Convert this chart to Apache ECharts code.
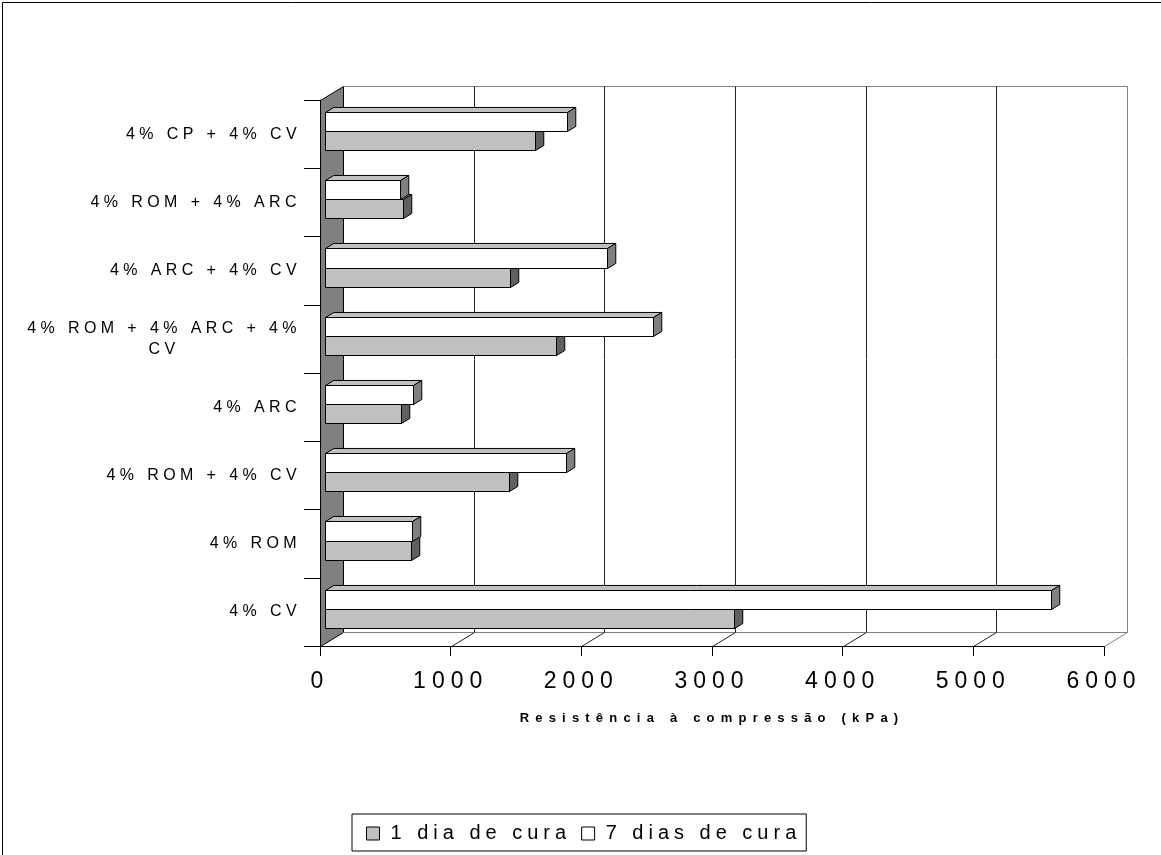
<!DOCTYPE html>
<html>
<head>
<meta charset="utf-8">
<script src="https://cdn.jsdelivr.net/npm/echarts@6/dist/echarts.min.js"></script>
<style>
html,body{margin:0;padding:0;background:#fff;}
#chart{width:1161px;height:855px;}
</style>
</head>
<body>
<div id="chart"></div>
<script>
// ---- data ----
const categories = ['4% CV', '4% ROM', '4% ROM + 4% CV', '4% ARC', '4% ROM + 4% ARC + 4% CV', '4% ARC + 4% CV', '4% ROM + 4% ARC', '4% CP + 4% CV'];
const dia1 = [3130, 660, 1405, 580, 1770, 1415, 595, 1610];
const dia7 = [5555, 665, 1845, 675, 2510, 2155, 570, 1850];
const seriesNames = ['1 dia de cura', '7 dias de cura'];
const xTicks = [0, 1000, 2000, 3000, 4000, 5000, 6000];
const xTickLabels = ['0', '1000', '2000', '3000', '4000', '5000', '6000'];
const axisTitle = 'Resistência à compressão (kPa)';

// ---- wide character spacing of the original text ----
const SPACING = {13: 6.2, 16: 4.4, 20: 5.0, 23: 6};
(function () {
  const P = CanvasRenderingContext2D.prototype;
  if (!('letterSpacing' in P)) return;
  function apply(ctx) {
    const m = /(\d+(?:\.\d+)?)px/.exec(ctx.font);
    const s = m ? (SPACING[Math.round(+m[1])] || 0) : 0;
    ctx.letterSpacing = s + 'px';
  }
  const f = P.fillText, st = P.strokeText, ms = P.measureText;
  P.fillText = function () { apply(this); return f.apply(this, arguments); };
  P.strokeText = function () { apply(this); return st.apply(this, arguments); };
  P.measureText = function () { apply(this); return ms.apply(this, arguments); };
})();

const FONT = '"Liberation Sans", Arial, sans-serif';
const D = [23, -14];          // depth of the 3-D box
const BAR_FRONT = 0.22, BAR_DEPTH = 0.36, BAR_FRAC = 0.28;
const crisp = v => Math.round(v) + 0.5;

function barRenderer(slot, front, top, side) {
  return function (params, api) {
    const v = api.value(0), ci = api.value(1);
    const base = api.coord([0, ci]);
    const end = api.coord([v, ci]);
    const band = api.size([0, 1])[1];
    const h = band * BAR_FRAC;
    const ox = D[0] * BAR_FRONT, oy = D[1] * BAR_FRONT;
    const bx = D[0] * BAR_DEPTH, by = D[1] * BAR_DEPTH;
    const x0 = crisp(base[0] + ox), x1 = crisp(end[0] + ox);
    const y0 = crisp(base[1] + oy + (slot === 0 ? 0 : -h));
    const y1 = crisp(base[1] + oy + (slot === 0 ? h : 0));
    const st = {stroke: '#000', lineWidth: 1};
    return {
      type: 'group',
      children: [
        {type: 'rect', shape: {x: x0, y: y0, width: x1 - x0, height: y1 - y0}, style: Object.assign({fill: front}, st)},
        {type: 'polygon', shape: {points: [[x0, y0], [x1, y0], [x1 + bx, y0 + by], [x0 + bx, y0 + by]]}, style: Object.assign({fill: top}, st)},
        {type: 'polygon', shape: {points: [[x1, y0], [x1 + bx, y0 + by], [x1 + bx, y1 + by], [x1, y1]]}, style: Object.assign({fill: side}, st)}
      ]
    };
  };
}

function wallsRenderer(params, api) {
  const cs = params.coordSys;
  const gx = crisp(cs.x), gy = crisp(cs.y), gw = Math.round(cs.width), gh = Math.round(cs.height);
  const [dx, dy] = D;
  const ch = [];
  ch.push({type: 'polygon', shape: {points: [[gx, gy], [gx + dx, gy + dy], [gx + dx, gy + gh + dy], [gx, gy + gh]]},
           style: {fill: '#808080', stroke: '#000', lineWidth: 1}});
  ch.push({type: 'line', shape: {x1: gx + dx, y1: gy + dy, x2: gx + gw + dx, y2: gy + dy}, style: {stroke: '#808080', lineWidth: 1}});
  ch.push({type: 'line', shape: {x1: gx + dx, y1: gy + gh + dy, x2: gx + gw + dx, y2: gy + gh + dy}, style: {stroke: '#808080', lineWidth: 1}});
  xTicks.forEach(function (t) {
    if (t === xTicks[0]) return;
    const x = crisp(api.coord([t, 0])[0]);
    const last = t === xTicks[xTicks.length - 1];
    const c = last ? '#808080' : '#222';
    ch.push({type: 'line', shape: {x1: x + dx, y1: gy + dy, x2: x + dx, y2: gy + gh + dy}, style: {stroke: c, lineWidth: 1}});
    ch.push({type: 'line', shape: {x1: x, y1: gy + gh, x2: x + dx, y2: gy + gh + dy}, style: {stroke: c, lineWidth: 1}});
  });
  return {type: 'group', children: ch};
}

function wrapLabel(v) {
  const words = v.split(' ');
  const lines = [];
  let cur = '';
  words.forEach(function (w) {
    const t = cur ? cur + ' ' + w : w;
    if (t.length > 20 && cur) { lines.push(cur); cur = w; } else cur = t;
  });
  lines.push(cur);
  return lines.map(l => '{c|' + l + '}').join('\n');
}

const chart = echarts.init(document.getElementById('chart'), null, {renderer: 'canvas'});
chart.setOption({
  animation: false,
  backgroundColor: '#fff',
  textStyle: {fontFamily: FONT},
  grid: {left: 320, right: 57, top: 100, bottom: 209, containLabel: false},
  xAxis: {
    type: 'value', min: 0, max: 6000, interval: 1000,
    axisLine: {show: true, lineStyle: {color: '#000', width: 1}},
    axisTick: {show: true, length: 10, lineStyle: {color: '#000'}},
    splitLine: {show: false},
    axisLabel: {
      color: '#000', fontSize: 23, fontFamily: FONT, margin: 21,
      formatter: function (v) { const i = xTicks.indexOf(v); return i >= 0 ? xTickLabels[i] : String(v); }
    },
    name: axisTitle, nameLocation: 'middle', nameGap: 63,
    nameTextStyle: {color: '#000', fontSize: 13, fontWeight: 'bold', fontFamily: FONT}
  },
  yAxis: {
    type: 'category', data: categories,
    axisLine: {show: true, lineStyle: {color: '#000', width: 1}},
    axisTick: {show: true, length: 16, lineStyle: {color: '#000'}},
    splitLine: {show: false},
    axisLabel: {
      interval: 0, color: '#000', margin: 19, fontSize: 16, fontFamily: FONT,
      formatter: wrapLabel,
      rich: {c: {fontSize: 16, fontFamily: FONT, color: '#000', align: 'center', lineHeight: 21}}
    }
  },
  legend: {
    left: 352, top: 814,
    orient: 'horizontal',
    borderColor: '#000', borderWidth: 1,
    padding: [7, 5, 5, 14],
    itemWidth: 13, itemHeight: 13, itemGap: 10,
    textStyle: {color: '#000', fontSize: 20, fontFamily: FONT, padding: [0, 0, 0, 6]},
    data: [
      {name: seriesNames[0], icon: 'rect', itemStyle: {color: '#c0c0c0', borderColor: '#000', borderWidth: 1}},
      {name: seriesNames[1], icon: 'rect', itemStyle: {color: '#ffffff', borderColor: '#000', borderWidth: 1}}
    ]
  },
  graphic: [{
    type: 'rect', left: 0, top: 0, silent: true, z: -10,
    shape: {x: 0, y: 0, width: 1159, height: 853},
    style: {fill: 'none', stroke: '#000', lineWidth: 1}
  }],
  series: [
    {
      type: 'custom', name: 'walls', silent: true, z: 1,
      renderItem: wallsRenderer, data: [[0, 0]], encode: {x: 0, y: 1}
    },
    {
      type: 'custom', name: seriesNames[0], z: 2,
      itemStyle: {color: '#c0c0c0', borderColor: '#000'},
      renderItem: barRenderer(0, '#c0c0c0', '#969696', '#606060'),
      data: dia1.map((v, i) => [v, i]), encode: {x: 0, y: 1}
    },
    {
      type: 'custom', name: seriesNames[1], z: 3,
      itemStyle: {color: '#ffffff', borderColor: '#000'},
      renderItem: barRenderer(1, '#ffffff', '#c0c0c0', '#808080'),
      data: dia7.map((v, i) => [v, i]), encode: {x: 0, y: 1}
    }
  ]
});
</script>
</body>
</html>
